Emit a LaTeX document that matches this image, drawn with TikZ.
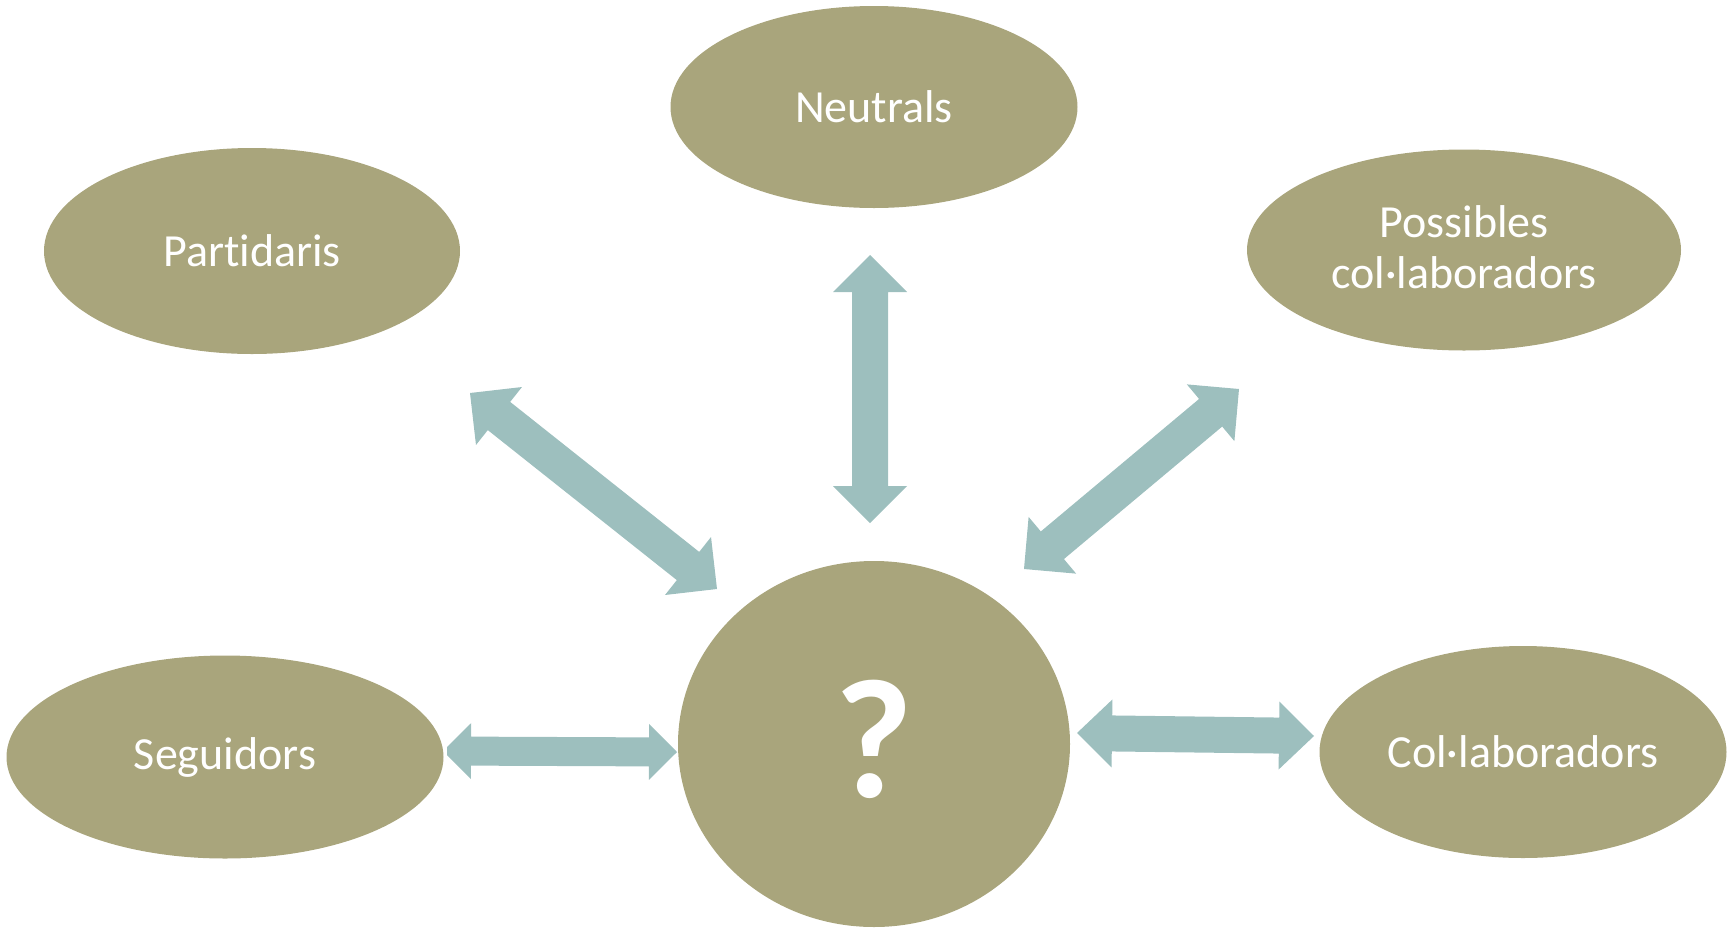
\documentclass[tikz,border=0pt]{standalone}
\usepackage{fontspec}
\setmainfont[Ligatures=NoCommon]{Carlito}
\usetikzlibrary{calc,shapes.geometric}
\definecolor{olive}{HTML}{A9A57C}
\definecolor{arrowc}{HTML}{9DBFBE}
\tikzset{
  blob/.style={ellipse, fill=olive, text=white, align=center, inner sep=0pt,
    font=\fontsize{46}{52}\selectfont},
}
% #1 start, #2 end, #3 name, #4 head length, #5 head half-width, #6 shaft half-width
\newcommand\dblarr[6]{%
  \coordinate (#3a) at ($(#1)!#4pt!(#2)$);
  \coordinate (#3b) at ($(#2)!#4pt!(#1)$);
  \fill[arrowc] (#1) -- ($(#3a)!#5pt!90:(#2)$) -- ($(#3a)!#6pt!90:(#2)$)
    -- ($(#3b)!#6pt!90:(#2)$) -- ($(#3b)!#5pt!90:(#2)$) -- (#2)
    -- ($(#3b)!#5pt!-90:(#2)$) -- ($(#3b)!#6pt!-90:(#2)$)
    -- ($(#3a)!#6pt!-90:(#2)$) -- ($(#3a)!#5pt!-90:(#2)$) -- cycle;
}
\begin{document}
\begin{tikzpicture}[x=1pt,y=-1pt]
\useasboundingbox (0,0) rectangle (1730,930);
\node[blob, minimum width=407pt, minimum height=202pt] (neu) at (874,107) {Neutrals};
\node[blob, minimum width=416pt, minimum height=206pt] (par) at (252,251) {Partidaris};
\node[blob, minimum width=434pt, minimum height=201pt] (pos) at (1464,250) {};
\node[text=white, align=center, inner sep=0pt, font=\fontsize{46}{51}\selectfont] (post) at (1464,247) {Possibles\\col·laboradors};
\node[blob, minimum width=392pt, minimum height=366pt, font=\fontsize{170}{180}\selectfont\bfseries] (cen) at (874,744) {\raisebox{10pt}{?}};
\node[blob, minimum width=437pt, minimum height=203pt] (seg) at (225,757) {Seguidors};
\node[blob, minimum width=407pt, minimum height=212pt] (col) at (1523,752) {Col·laboradors};

\coordinate (v1) at (870,255); \coordinate (v2) at (870,523);
\coordinate (l1) at (470,393); \coordinate (l2) at (717,589);
\coordinate (r1) at (1239,389); \coordinate (r2) at (1024,569);
\coordinate (s1) at (443,751); \coordinate (s2) at (677,752);
\coordinate (c1) at (1077,733); \coordinate (c2) at (1314,736);
\dblarr{v1}{v2}{av}{37}{37}{18}
\dblarr{l1}{l2}{al}{37}{37}{18}
\dblarr{r1}{r2}{ar}{37}{37}{18}
\begin{scope}
  \clip (447,700) rectangle (700,800);
  \dblarr{s1}{s2}{as}{28}{28}{14.5}
\end{scope}
\dblarr{c1}{c2}{ac}{35}{34}{18}
\end{tikzpicture}
\end{document}
